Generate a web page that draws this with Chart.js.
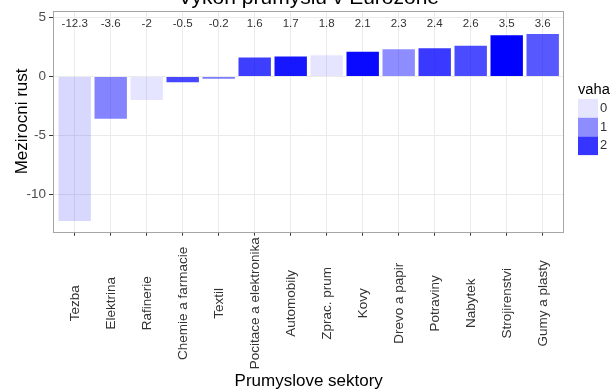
<!DOCTYPE html>
<html><head><meta charset="utf-8">
<script src="https://cdn.jsdelivr.net/npm/chart.js@4.4.1/dist/chart.umd.min.js"></script>
<style>html,body{margin:0;padding:0;background:#fff;overflow:hidden}#c{display:block}</style>
</head><body>
<canvas id="c" width="611" height="392"></canvas>
<script>
const categories = ["Tezba","Elektrina","Rafinerie","Chemie a farmacie","Textil","Pocitace a elektronika","Automobily","Zprac. prum","Kovy","Drevo a papir","Potraviny","Nabytek","Strojirenstvi","Gumy a plasty"];
const growth = [-12.3,-3.6,-2,-0.5,-0.2,1.6,1.7,1.8,2.1,2.3,2.4,2.6,3.5,3.6];
const weights = [0.15,1.1,0,1.8,1.2,1.9,2.35,0,2.5,1.0,1.95,1.75,2.6,1.6];
const yTicks = [-10,-5,0,5];
const legendKeys = [0,1,2];
const chartTitle = "Vykon prumyslu v Eurozone";
const xTitle = "Prumyslove sektory";
const yTitle = "Mezirocni rust";
const legendTitle = "vaha";

const FONT = "'Liberation Sans', Arial, Helvetica, sans-serif";
const wMin = Math.min(...weights), wMax = Math.max(...weights);
const alphaOf = w => Math.max(0, Math.min(1, 0.1 + 0.9 * (w - wMin) / (wMax - wMin)));
const fillOf = w => `rgba(0,0,255,${alphaOf(w).toFixed(3)})`;

const extras = {
  id: 'extras',
  afterDraw(chart) {
    const {ctx, chartArea: a, scales} = chart;
    ctx.save();
    // panel frame
    ctx.strokeStyle = '#a6a6a6';
    ctx.lineWidth = 1;
    ctx.strokeRect(Math.round(a.left) + 0.5, Math.round(a.top) + 0.5, Math.round(a.right - a.left) - 1, Math.round(a.bottom - a.top));
    // value labels
    ctx.fillStyle = '#333';
    ctx.font = `11.5px ${FONT}`;
    ctx.textAlign = 'center';
    ctx.textBaseline = 'middle';
    const ly = scales.y.getPixelForValue(4.5);
    growth.forEach((v, i) => {
      ctx.fillText(String(v), scales.x.getPixelForValue(i), ly);
    });
    // x category labels, rotated and centred
    ctx.fillStyle = '#333';
    ctx.font = `13.5px ${FONT}`;
    categories.forEach((c, i) => {
      ctx.save();
      ctx.translate(scales.x.getPixelForValue(i) + 0.5, a.bottom + 71.6);
      ctx.rotate(-Math.PI / 2);
      ctx.textAlign = 'center';
      ctx.textBaseline = 'middle';
      ctx.fillText(c, 0, 0);
      ctx.restore();
    });
    // title (cut off at top)
    ctx.fillStyle = '#000';
    ctx.font = `21px ${FONT}`;
    ctx.textAlign = 'center';
    ctx.textBaseline = 'alphabetic';
    ctx.fillText(chartTitle, (a.left + a.right) / 2, 4);
    // legend
    const lx = 578, ly0 = 99, kh = 18.7, kw = 20;
    ctx.textAlign = 'left';
    ctx.font = `14.7px ${FONT}`;
    ctx.textBaseline = 'middle';
    ctx.fillText(legendTitle, lx, 90);
    ctx.font = `13px ${FONT}`;
    legendKeys.forEach((k, i) => {
      ctx.fillStyle = '#fff';
      ctx.fillRect(lx, ly0 + i * kh, kw, kh);
      ctx.fillStyle = fillOf(k);
      ctx.fillRect(lx, ly0 + i * kh, kw, kh);
      ctx.fillStyle = '#333';
      ctx.fillText(String(k), lx + kw + 2, ly0 + i * kh + kh / 2);
    });
    ctx.restore();
  }
};

new Chart(document.getElementById('c'), {
  type: 'bar',
  data: {
    datasets: [{
      data: categories.map((c, i) => ({x: i, y: growth[i]})),
      backgroundColor: weights.map(fillOf),
      borderWidth: 0,
      categoryPercentage: 0.9,
      barPercentage: 1
    }]
  },
  options: {
    responsive: false,
    animation: false,
    devicePixelRatio: 1,
    layout: {padding: {top: 6.7, right: 46.7, left: 0, bottom: 0}},
    plugins: {legend: {display: false}, tooltip: {enabled: false}, title: {display: false}},
    scales: {
      x: {
        type: 'linear',
        min: -0.6,
        max: categories.length - 1 + 0.6,
        offset: false,
        afterBuildTicks: s => { s.ticks = categories.map((c, i) => ({value: i})); },
        afterFit: s => { s.height = 160.3; },
        ticks: {display: false},
        grid: {offset: false, color: '#ebebeb', tickColor: '#333', tickLength: 4, lineWidth: 1, drawTicks: true},
        border: {display: false},
        title: {display: true, text: xTitle, color: '#000', font: {family: FONT, size: 17}, padding: {top: 0, bottom: 0}}
      },
      y: {
        min: -13.2,
        max: 5.55,
        afterBuildTicks: s => { s.ticks = yTicks.map(v => ({value: v})); },
        afterFit: s => { s.width = 53.1; },
        ticks: {color: '#4d4d4d', padding: 3, font: {family: FONT, size: 13.5}},
        grid: {color: '#ebebeb', tickColor: '#333', tickLength: 4, lineWidth: 1},
        border: {display: false},
        title: {display: true, text: yTitle, color: '#000', font: {family: FONT, size: 17}, padding: {top: 11.8, bottom: 0}}
      }
    }
  },
  plugins: [extras]
});
</script>
</body></html>
